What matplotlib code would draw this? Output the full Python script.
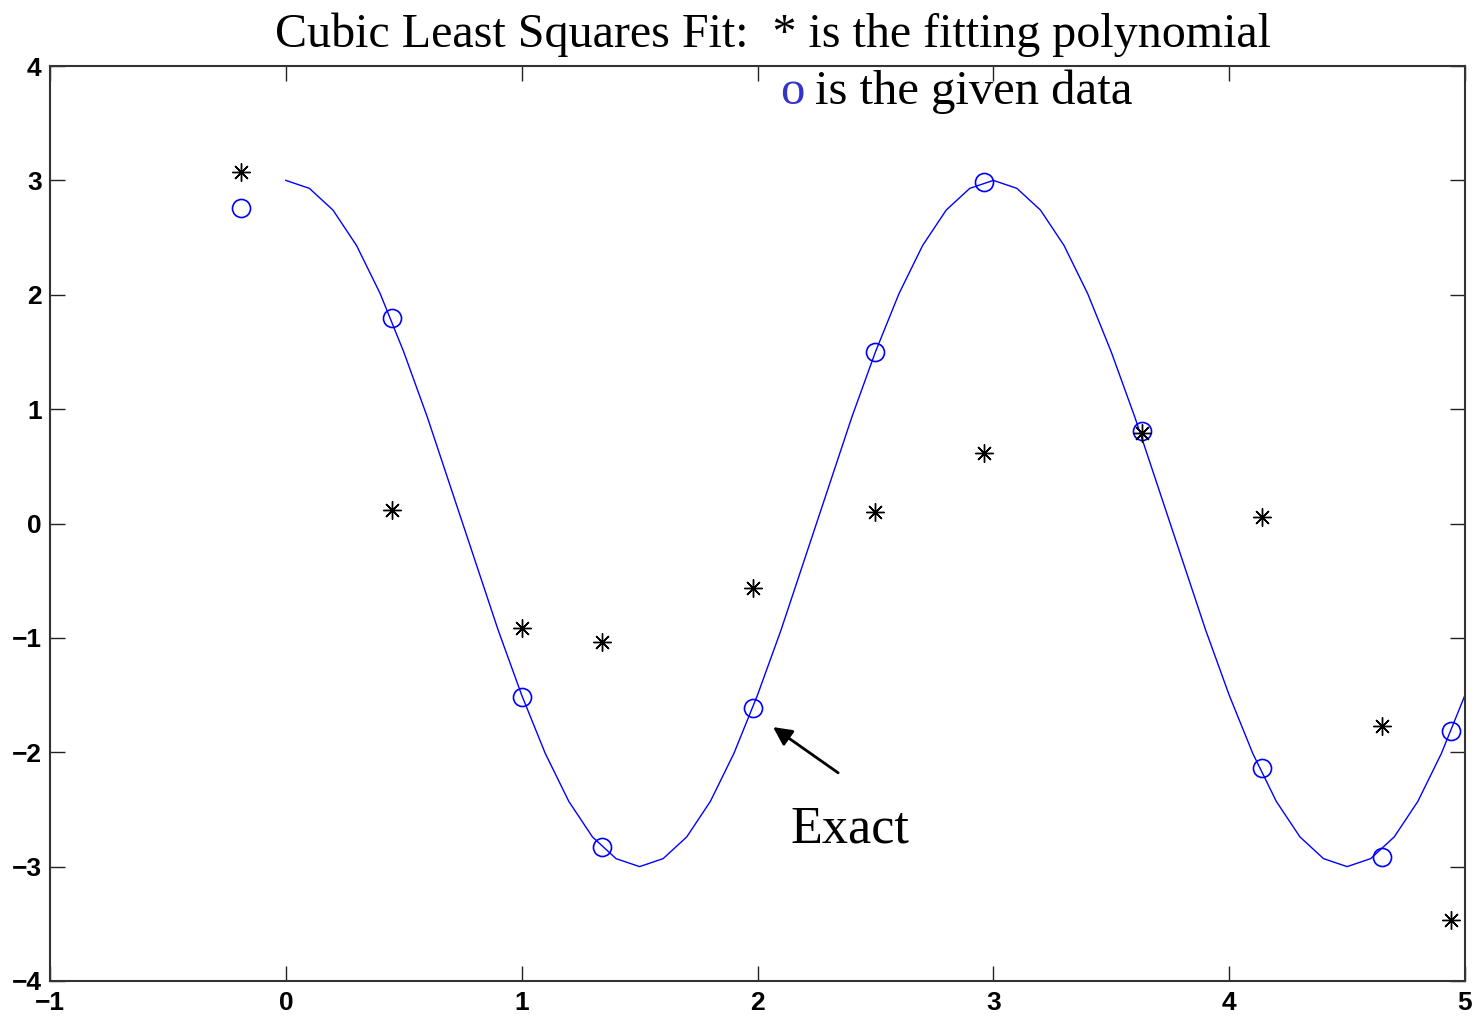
import matplotlib
matplotlib.use("Agg")
import matplotlib.pyplot as plt
import numpy as np

curve_x = [round(0.1 * i, 1) for i in range(51)]
curve_y = [3.00, 2.93, 2.74, 2.43, 2.01, 1.50, 0.93, 0.31, -0.31, -0.93,
           -1.50, -2.01, -2.43, -2.74, -2.93, -3.00, -2.93, -2.74, -2.43, -2.01,
           -1.50, -0.93, -0.31, 0.31, 0.93, 1.50, 2.01, 2.43, 2.74, 2.93,
           3.00, 2.93, 2.74, 2.43, 2.01, 1.50, 0.93, 0.31, -0.31, -0.93,
           -1.50, -2.01, -2.43, -2.74, -2.93, -3.00, -2.93, -2.74, -2.43, -2.01,
           -1.50]

# Given data (circles)
data_x = [-0.19, 0.45, 1.00, 1.34, 1.98, 2.50, 2.96, 3.63, 4.14, 4.65, 4.94]
data_y = [2.76, 1.80, -1.52, -2.83, -1.61, 1.50, 2.99, 0.81, -2.14, -2.92, -1.81]

# Fitting polynomial values (stars)
fit_y = [3.07, 0.12, -0.91, -1.04, -0.56, 0.10, 0.62, 0.79, 0.06, -1.77, -3.47]

xticks = [-1, 0, 1, 2, 3, 4, 5]
yticks = [-4, -3, -2, -1, 0, 1, 2, 3, 4]

W, H = 1478, 1016
fig = plt.figure(figsize=(W / 100, H / 100), dpi=100)
ax = fig.add_axes([50 / W, 1 - 981 / H, (1465 - 50) / W, (981 - 66) / H])

ax.plot(curve_x, curve_y, color="#0000ff", lw=1.0)
ax.plot(data_x, data_y, linestyle="none", marker="o", markersize=13,
        markerfacecolor="none", markeredgecolor="#0000ff", markeredgewidth=1.2)
ax.plot(data_x, fit_y, linestyle="none", marker=(8, 2, 0), markersize=13,
        color="black", markeredgewidth=1.0)

ax.set_xlim(-1, 5)
ax.set_ylim(-4, 4)
ax.set_xticks(xticks)
ax.set_yticks(yticks)
ax.set_xticklabels([str(t).replace("-", "\u2212") for t in xticks])
ax.set_yticklabels([str(t).replace("-", "\u2212") for t in yticks])
ax.tick_params(direction="in", length=11, width=1.0, top=True, right=True,
               labelsize=19, colors="#222222")
ax.tick_params(axis="x", pad=7)
ax.tick_params(axis="y", pad=6)
for lab in ax.get_xticklabels() + ax.get_yticklabels():
    lab.set_fontfamily("Liberation Sans")
    lab.set_fontweight("bold")
    lab.set_color("black")
for sp in ax.spines.values():
    sp.set_linewidth(1.5)
    sp.set_color("#333333")

serif = "Liberation Serif"
fig.text(773 / W, 1 - 47 / H, "Cubic Least Squares Fit:  * is the fitting polynomial",
         ha="center", va="baseline", fontsize=34.6, family=serif)
fig.text(780 / W, 1 - 104 / H, "o", ha="left", va="baseline", fontsize=35,
         family=serif, color="#3333cc")
fig.text(815 / W, 1 - 104 / H, "is the given data", ha="left", va="baseline",
         fontsize=35, family=serif)

ax.annotate("", xy=(2.066, -1.78), xytext=(2.342, -2.18),
            arrowprops=dict(arrowstyle="-|>", color="black", lw=2,
                            mutation_scale=28, shrinkA=0, shrinkB=0))
ax.text(2.138, -2.79, "Exact", ha="left", va="baseline", fontsize=37.5, family=serif)

fig.savefig("out.png", dpi=100)
